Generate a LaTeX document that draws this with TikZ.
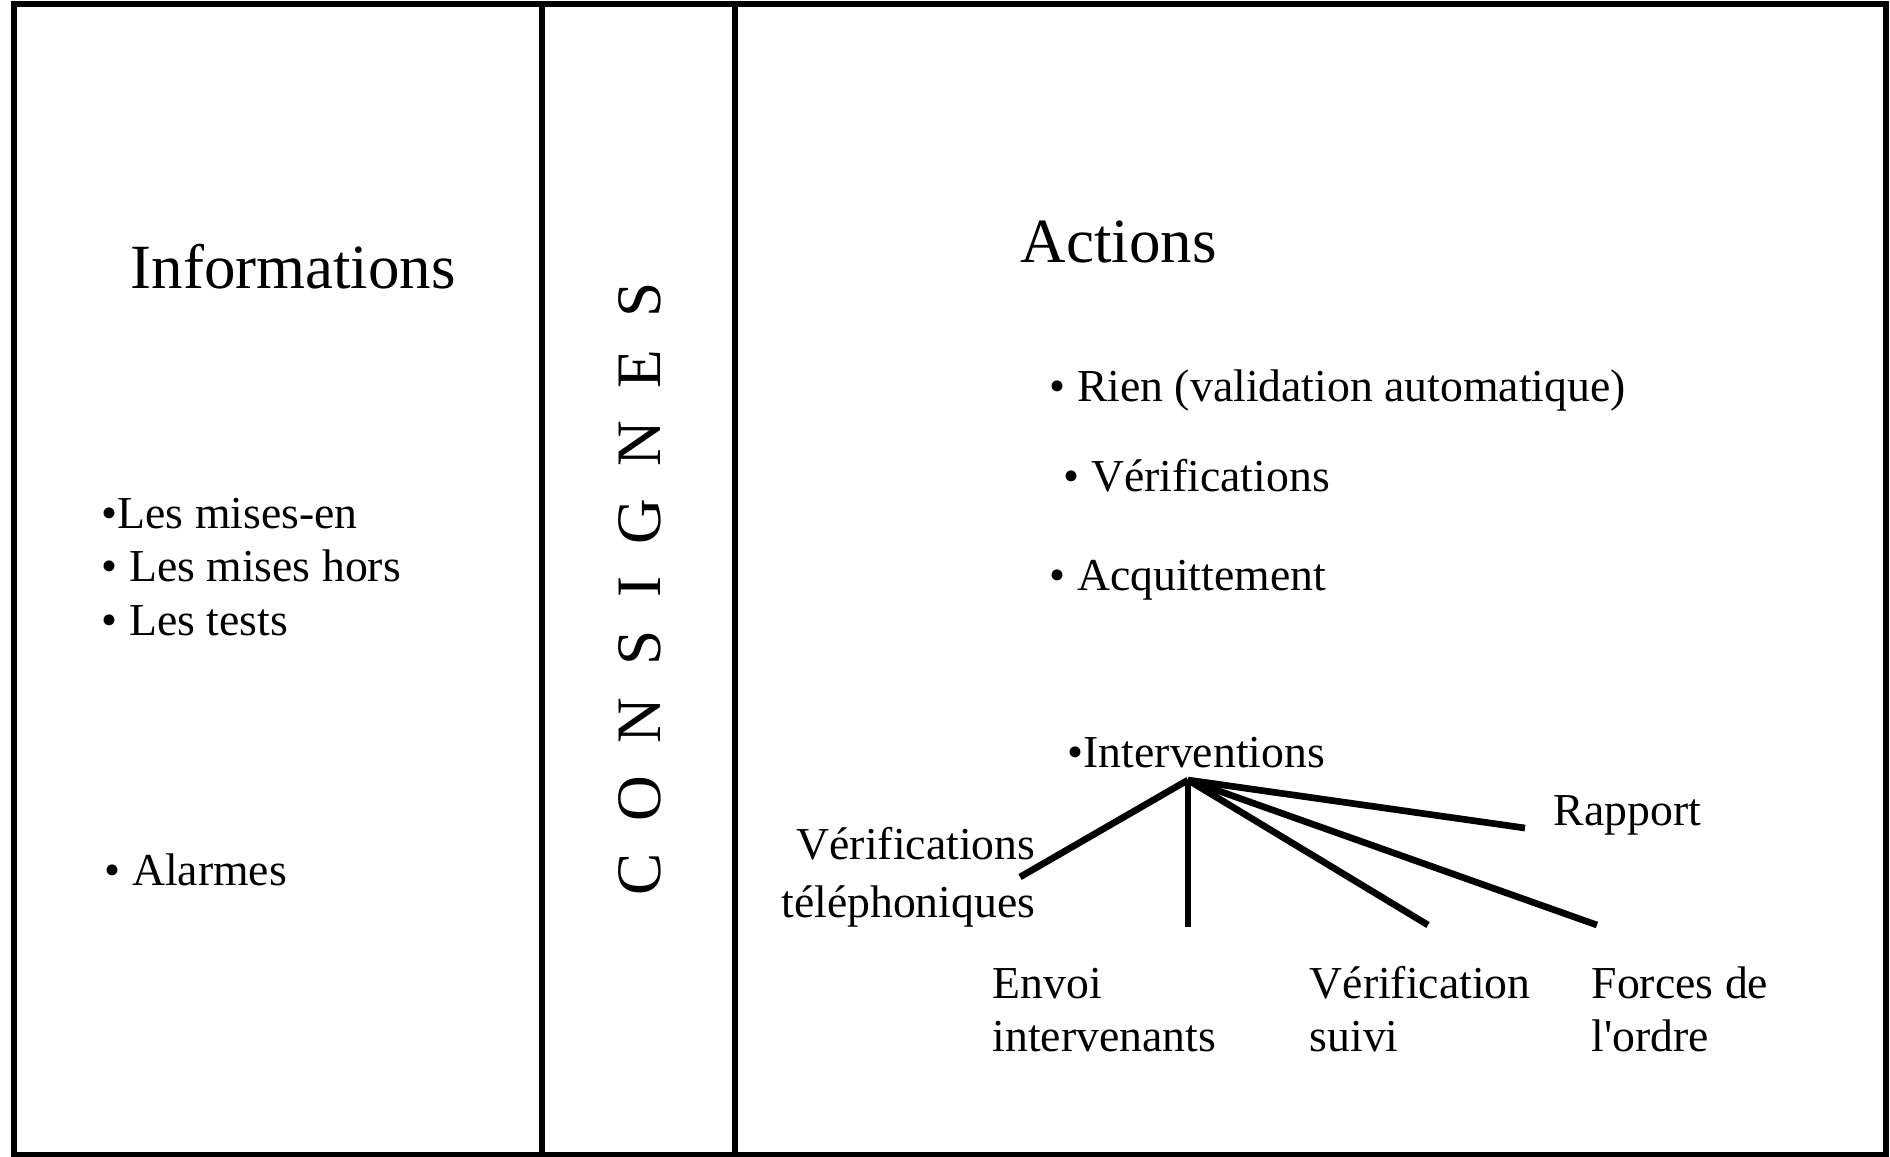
\documentclass[tikz,border=0pt]{standalone}
\usepackage{fontspec}
\setmainfont{Liberation Serif}
\usetikzlibrary{positioning}

\newcommand{\lsp}{\hspace{0.51em}}

\begin{document}
\begin{tikzpicture}[
    x=0.01cm,
    y=-0.01cm,
    frame/.style ={
        line width=1.45pt
    },
    titre/.style ={
        font=\fontsize{17.9}{21}\selectfont,
        inner sep=0pt,
        anchor=base west
    },
    item/.style ={
        font=\fontsize{13}{15}\selectfont,
        inner sep=0pt,
        anchor=base west
    },
    sub/.style ={
        item,
        align=left
    },
    branch/.style ={
        line width=1.9pt
    }
    ]

    \useasboundingbox (0,0) rectangle (1890,1156);

    % columns
    \draw[frame] (14,4) rectangle (1886,1155);
    \draw[frame] (542,4) -- (542,1155);
    \draw[frame] (735,4) -- (735,1155);

    % informations
    \node[titre] (info) at (130,288) {Informations};
    \node[item] (misesen) at (101,528) {\textbullet Les mises-en};
    \node[item] (hors) at (101,581) {\textbullet{} Les mises hors};
    \node[item] (tests) at (101,635) {\textbullet{} Les tests};
    \node[item] (alarmes) at (104,885) {\textbullet{} Alarmes};

    % consignes
    \node[font=\fontsize{18}{21}\selectfont, inner sep=0pt, rotate=90] (consignes) at (640,589)
        {C\lsp O\lsp N\lsp S\lsp I\lsp G\lsp N\lsp E\lsp S};

    % actions
    \node[titre] (actions) at (1020,262) {Actions};
    \node[item] (rien) at (1049,401) {\textbullet{} Rien (validation automatique)};
    \node[item] (verif) at (1063,491) {\textbullet{} Vérifications};
    \node[item] (acquit) at (1049,590) {\textbullet{} Acquittement};
    \node[item] (interv) at (1067,767) {\textbullet Interventions};

    \node[item] (rapport) at (1553,825) {Rapport};
    \node[sub, font=\fontsize{13}{16.4}\selectfont, align=right, anchor=base east] (vtel) at (1036,917)
        {Vérifications\\téléphoniques};
    \node[sub] (envoi) at (992,1051) {Envoi\\intervenants};
    \node[sub] (vsuivi) at (1309,1051) {Vérification\\suivi};
    \node[sub] (forces) at (1591,1051) {Forces de\\l\textquotesingle ordre};

    % branches
    \coordinate (hub) at (1188,780);
    \coordinate (vtelend) at (1020,877);
    \coordinate (envoiend) at (1188,927);
    \coordinate (vsuiviend) at (1428,925);
    \coordinate (forcesend) at (1597,925);
    \coordinate (rapportend) at (1525,828);

    \foreach \dst in {vtelend, envoiend, vsuiviend, forcesend, rapportend}
        \draw[branch] (hub) -- (\dst);
\end{tikzpicture}
\end{document}
